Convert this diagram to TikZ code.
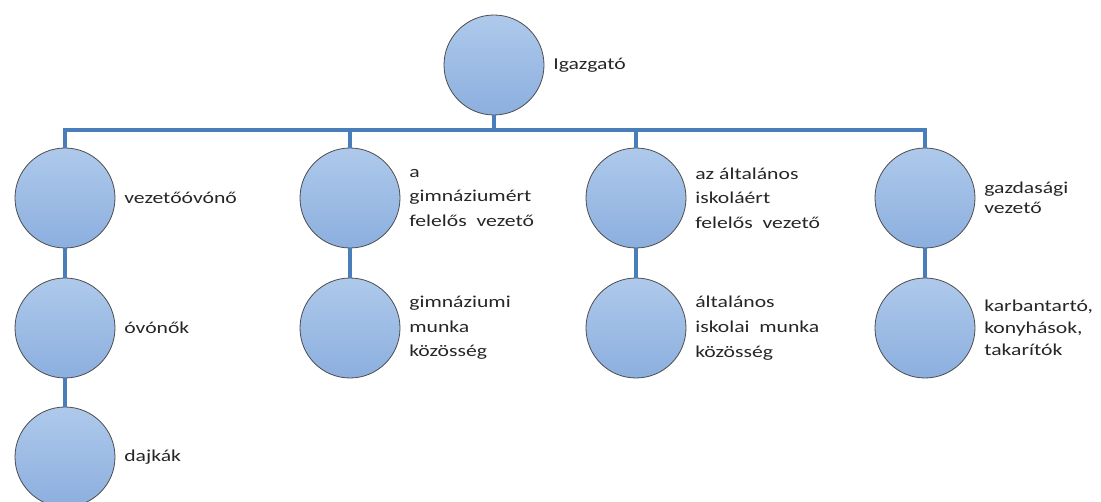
\documentclass[tikz,border=0pt]{standalone}
\usepackage{fontspec}
\setmainfont{Carlito}[FakeStretch=1.3]
\usetikzlibrary{positioning}

\definecolor{linkblue}{RGB}{74,126,187}
\definecolor{nodetop}{RGB}{174,201,235}
\definecolor{nodebot}{RGB}{140,175,223}

\tikzset{
  person/.style={circle, minimum size=75pt, inner sep=0pt, draw=black!70,
    line width=0.6pt, top color=nodetop, bottom color=nodebot},
  lbl/.style={align=left, inner sep=0pt, text=black!85,
    font=\fontsize{12.5}{18.5}\selectfont},
  conn/.style={draw=linkblue, line width=3pt}
}

\begin{document}
\begin{tikzpicture}[x=0.75pt, y=-0.75pt]
    \useasboundingbox (0,0) rectangle (1101,502);
    % top
    \node[person] (top) at (494,65) {};
    \node[lbl, right=6.5pt of top] (topT) {Igazgató};
    % first level
    \node[person] (vez) at (65,198) {};
    \node[person] (gimvez) at (350,198) {};
    \node[person] (altvez) at (636,198) {};
    \node[person] (gazd) at (925,198) {};
    \node[lbl, right=6.5pt of vez] (vezT) {vezetőóvónő};
    \node[lbl, right=6.5pt of gimvez] (gimvezT) {a\\gimnáziumért\\felelős\ \ vezető};
    \node[lbl, right=6.5pt of altvez] (altvezT) {az általános\\iskoláért\\felelős\ \ vezető};
    \node[lbl, right=6.5pt of gazd, font=\fontsize{12.5}{15}\selectfont] (gazdT) {gazdasági\\vezető};
    % second level
    \node[person] (ovonok) at (65,328) {};
    \node[person] (gimmk) at (350,328) {};
    \node[person] (altmk) at (636,328) {};
    \node[person] (karb) at (925,328) {};
    \node[lbl, right=6.5pt of ovonok] (ovonokT) {óvónők};
    \node[lbl, right=6.5pt of gimmk] (gimmkT) {gimnáziumi\\munka\\közösség};
    \node[lbl, right=6.5pt of altmk] (altmkT) {általános\\iskolai\ \ munka\\közösség};
    \node[lbl, right=6.5pt of karb, font=\fontsize{12.5}{16.5}\selectfont] (karbT) {karbantartó,\\konyhások,\\takarítók};
    % third level
    \node[person] (dajkak) at (65,457) {};
    \node[lbl, right=6.5pt of dajkak] (dajkakT) {dajkák};
    % connectors
    \coordinate (bus) at (494,130);
    \draw[conn] (top.south) -- (bus);
    \draw[conn] (vez.north) |- (bus) -| (gazd.north);
    \draw[conn] (bus -| gimvez.north) -- (gimvez.north);
    \draw[conn] (bus -| altvez.north) -- (altvez.north);
    \draw[conn] (vez.south) -- (ovonok.north);
    \draw[conn] (ovonok.south) -- (dajkak.north);
    \draw[conn] (gimvez.south) -- (gimmk.north);
    \draw[conn] (altvez.south) -- (altmk.north);
    \draw[conn] (gazd.south) -- (karb.north);
\end{tikzpicture}
\end{document}
